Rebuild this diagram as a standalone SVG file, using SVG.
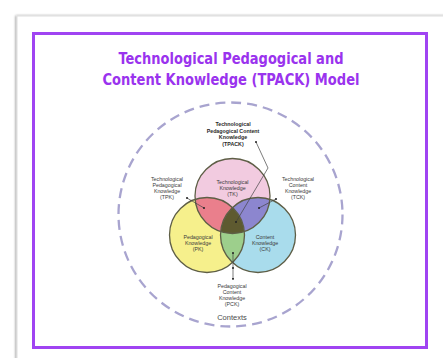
<svg xmlns="http://www.w3.org/2000/svg" width="443" height="358" viewBox="0 0 443 358">
  <defs>
    <filter id="cardShadow" x="-10%" y="-10%" width="120%" height="120%">
      <feGaussianBlur in="SourceAlpha" stdDeviation="1.2"/>
      <feOffset dx="-1.5" dy="0" result="b"/>
      <feComponentTransfer><feFuncA type="linear" slope="0.4"/></feComponentTransfer>
      <feMerge><feMergeNode/><feMergeNode in="SourceGraphic"/></feMerge>
    </filter>
    <clipPath id="clipTK"><circle cx="232.5" cy="196" r="37.5"/></clipPath>
    <clipPath id="clipPK"><circle cx="207" cy="235" r="37.5"/></clipPath>
    <clipPath id="clipCK"><circle cx="258" cy="235" r="37.5"/></clipPath>
    <marker id="arrow" viewBox="0 0 6 6" refX="5" refY="3" markerWidth="4" markerHeight="4" orient="auto">
      <path d="M0,0 L6,3 L0,6 z" fill="#333"/>
    </marker>
    <style>
      .title { font-family: "DejaVu Sans Condensed", "DejaVu Sans", sans-serif; font-weight: bold; font-stretch: condensed; font-size: 16.5px; fill: #9a33ee; text-anchor: middle; }
      .lbl { font-family: "Liberation Sans", Arial, sans-serif; font-size: 5.3px; fill: #3a3a3a; text-anchor: middle; }
      .lblb { font-family: "Liberation Sans", Arial, sans-serif; font-size: 5.3px; font-weight: bold; fill: #2a2a2a; text-anchor: middle; }
      .ring { fill: none; stroke: #5e5e46; stroke-width: 1.3; }
      .lead { fill: none; stroke: #444; stroke-width: 0.7; }
      .dot { fill: #222; }
    </style>
  </defs>

  <rect width="443" height="358" fill="#ffffff"/>

  <!-- card -->
  <rect x="17" y="16" width="440" height="360" fill="#ffffff" stroke="#dedede" stroke-width="1" filter="url(#cardShadow)"/>

  <!-- frame -->
  <rect x="33.5" y="33.5" width="393" height="314" fill="none" stroke="#a044f2" stroke-width="3"/>

  <!-- title -->
  <g id="title">
    <text class="title" x="231" y="64" textLength="225" lengthAdjust="spacingAndGlyphs">Technological Pedagogical and</text>
    <text class="title" x="231" y="84.5" textLength="257" lengthAdjust="spacingAndGlyphs">Content Knowledge (TPACK) Model</text>
  </g>

  <!-- contexts ring -->
  <g id="contexts">
    <circle cx="230.5" cy="214.5" r="112" fill="none" stroke="#a8a4cf" stroke-width="2.3" stroke-dasharray="10 6"/>
    <text x="232" y="320" font-family="Liberation Sans, Arial, sans-serif" font-size="7.5" fill="#4a4a4a" text-anchor="middle">Contexts</text>
  </g>

  <!-- knowledge domains -->
  <g id="TK">
    <circle cx="232.5" cy="196" r="37.5" fill="#f2cbe0"/>
  </g>
  <g id="PK">
    <circle cx="207" cy="235" r="37.5" fill="#f6f08c"/>
  </g>
  <g id="CK">
    <circle cx="258" cy="235" r="37.5" fill="#a9dcec"/>
  </g>

  <!-- overlaps -->
  <g id="TPK">
    <g clip-path="url(#clipTK)"><circle cx="207" cy="235" r="37.5" fill="#ea7f8c"/></g>
  </g>
  <g id="TCK">
    <g clip-path="url(#clipTK)"><circle cx="258" cy="235" r="37.5" fill="#8c86cf"/></g>
  </g>
  <g id="PCK">
    <g clip-path="url(#clipPK)"><circle cx="258" cy="235" r="37.5" fill="#9dcf8c"/></g>
  </g>
  <g id="TPACK">
    <g clip-path="url(#clipTK)"><g clip-path="url(#clipPK)"><circle cx="258" cy="235" r="37.5" fill="#5e5a30"/></g></g>
  </g>

  <!-- outlines -->
  <g id="outlines">
    <circle class="ring" cx="232.5" cy="196" r="37.5"/>
    <circle class="ring" cx="207" cy="235" r="37.5"/>
    <circle class="ring" cx="258" cy="235" r="37.5"/>
  </g>

  <!-- labels -->
  <g id="labels">
    <text class="lblb" x="233" y="126">Technological</text>
    <text class="lblb" x="233" y="132.5">Pedagogical Content</text>
    <text class="lblb" x="233" y="139">Knowledge</text>
    <text class="lblb" x="233" y="145.5">(TPACK)</text>

    <text class="lbl" x="167" y="181">Technological</text>
    <text class="lbl" x="167" y="187">Pedagogical</text>
    <text class="lbl" x="167" y="193">Knowledge</text>
    <text class="lbl" x="167" y="199">(TPK)</text>

    <text class="lbl" x="232.5" y="184">Technological</text>
    <text class="lbl" x="232.5" y="190">Knowledge</text>
    <text class="lbl" x="232.5" y="196">(TK)</text>

    <text class="lbl" x="298" y="181">Technological</text>
    <text class="lbl" x="298" y="187">Content</text>
    <text class="lbl" x="298" y="193">Knowledge</text>
    <text class="lbl" x="298" y="199">(TCK)</text>

    <text class="lbl" x="198" y="239">Pedagogical</text>
    <text class="lbl" x="198" y="245">Knowledge</text>
    <text class="lbl" x="198" y="251">(PK)</text>

    <text class="lbl" x="265" y="239">Content</text>
    <text class="lbl" x="265" y="245">Knowledge</text>
    <text class="lbl" x="265" y="251">(CK)</text>

    <text class="lbl" x="232" y="288">Pedagogical</text>
    <text class="lbl" x="232" y="294">Content</text>
    <text class="lbl" x="232" y="300">Knowledge</text>
    <text class="lbl" x="232" y="306">(PCK)</text>
  </g>

  <!-- leader lines -->
  <g id="connectors">
    <polyline class="lead" points="256,142 268,168 236,222"/>
    <circle class="dot" cx="256" cy="142" r="1"/>
    <circle class="dot" cx="236" cy="222" r="1"/>

    <line class="lead" x1="187" y1="198" x2="204" y2="208"/>
    <circle class="dot" cx="187" cy="198" r="1"/>
    <circle class="dot" cx="204" cy="208" r="1"/>

    <line class="lead" x1="276" y1="199" x2="259" y2="208"/>
    <circle class="dot" cx="276" cy="199" r="1"/>
    <circle class="dot" cx="259" cy="208" r="1"/>

    <line class="lead" x1="233" y1="253" x2="233" y2="280" marker-end="url(#arrow)"/>
    <circle class="dot" cx="233" cy="253" r="1"/>
    <circle class="dot" cx="233" cy="268" r="1"/>
  </g>
</svg>
